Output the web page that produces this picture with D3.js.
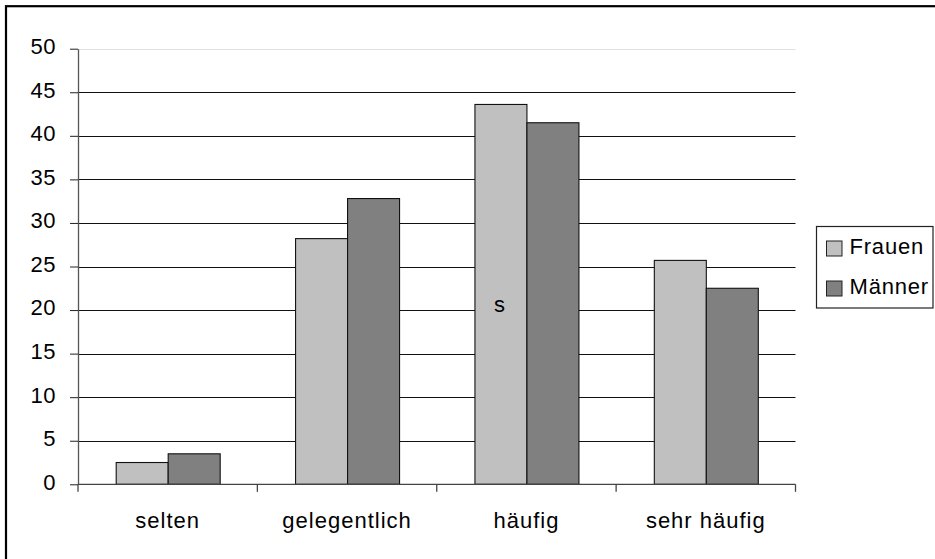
<!DOCTYPE html>
<html><head><meta charset="utf-8">
<script src="https://cdn.jsdelivr.net/npm/d3@7"></script>
<style>
html,body{margin:0;padding:0;background:#fff;}
svg text{font-family:"Liberation Sans",Arial,sans-serif;fill:#000;}
</style></head>
<body>
<svg id="c" width="935" height="559"></svg>
<script>
const categories = ["selten","gelegentlich","häufig","sehr häufig"];
const seriesNames = ["Frauen","Männer"];
const frauen = [2.5, 28.2, 43.6, 25.7];
const maenner = [3.5, 32.8, 41.5, 22.5];
const yTicks = [0,5,10,15,20,25,30,35,40,45,50];
const colors = ["#c0c0c0","#808080"];
const annotation = {text:"s", category:"häufig", value:20};

(function(){
const svg = d3.select("#c");
const pl = 78, pr = 795.5, pt = 48.7, pb = 484.3;
const x0 = d3.scaleBand().domain(categories).range([pl,pr]).paddingInner(0).paddingOuter(0);
const x1 = d3.scaleBand().domain(seriesNames).range([0,x0.bandwidth()]).paddingInner(0).paddingOuter(0.725);
const y = d3.scaleLinear().domain([0,50]).range([pb,pt]);

// outer border
svg.append("rect").attr("x",6).attr("y",6.2).attr("width",1000).attr("height",1000)
  .attr("fill","none").attr("stroke","#000").attr("stroke-width",2.2);

// gridlines
svg.append("g").selectAll("line").data(yTicks.filter(d=>d>0)).join("line")
  .attr("x1",pl).attr("x2",pr)
  .attr("y1",d=>Math.round(y(d))+0.5).attr("y2",d=>Math.round(y(d))+0.5)
  .attr("stroke",d=>d===50?"#e2e2e2":"#111").attr("stroke-width",1.2);

// bars
const data = categories.map((c,i)=>({c, vals:[frauen[i],maenner[i]]}));
const g = svg.append("g");
data.forEach(d=>{
  g.selectAll(null).data(d.vals.map((v,j)=>({s:seriesNames[j],v,j}))).join("rect")
    .attr("x",e=>x0(d.c)+x1(e.s)+0.5)
    .attr("y",e=>y(e.v))
    .attr("width",x1.bandwidth())
    .attr("height",e=>pb-y(e.v))
    .attr("fill",e=>colors[e.j]).attr("stroke","#111").attr("stroke-width",1.1);
});

// y axis
const ya = svg.append("g").attr("transform",`translate(${pl},0)`)
  .call(d3.axisLeft(y).tickValues(yTicks).tickSize(8).tickPadding(14).tickSizeOuter(0));
ya.select(".domain").attr("stroke","#555").attr("stroke-width",1.3);
ya.selectAll(".tick line").attr("stroke","#222");
ya.selectAll(".tick text").attr("font-size",22).attr("letter-spacing","0.5px").attr("dy","0.22em");

// x axis
const xa = svg.append("g");
xa.append("line").attr("x1",pl).attr("x2",pr).attr("y1",pb).attr("y2",pb)
  .attr("stroke","#444").attr("stroke-width",1.3);
const bounds = categories.map(c=>x0(c)).concat([pr]);
xa.selectAll(".tk").data(bounds).join("line").attr("class","tk")
  .attr("x1",d=>d).attr("x2",d=>d).attr("y1",pb).attr("y2",pb+7.5)
  .attr("stroke","#444").attr("stroke-width",1.3);
xa.selectAll("text").data(categories).join("text")
  .attr("x",d=>x0(d)+x0.bandwidth()/2).attr("y",528)
  .attr("text-anchor","middle").attr("font-size",22).attr("letter-spacing","1px")
  .text(d=>d);

// annotation
svg.append("text").attr("x",x0(annotation.category)+x1("Frauen")+x1.bandwidth()/2-1)
  .attr("y",y(annotation.value)+1.5).attr("text-anchor","middle").attr("font-size",22).text(annotation.text);

// legend
const lg = svg.append("g");
lg.append("rect").attr("x",816.5).attr("y",226.5).attr("width",116.5).attr("height",81.5)
  .attr("fill","#fff").attr("stroke","#222").attr("stroke-width",1.2);
seriesNames.forEach((s,i)=>{
  lg.append("rect").attr("x",826.5).attr("y",241+40*i).attr("width",15.5).attr("height",15)
    .attr("fill",colors[i]).attr("stroke","#222").attr("stroke-width",1);
  lg.append("text").attr("x",849.5).attr("y",254+40*i).attr("font-size",22)
    .attr("letter-spacing","0.8px").text(s);
});
})();
</script>
</body></html>
